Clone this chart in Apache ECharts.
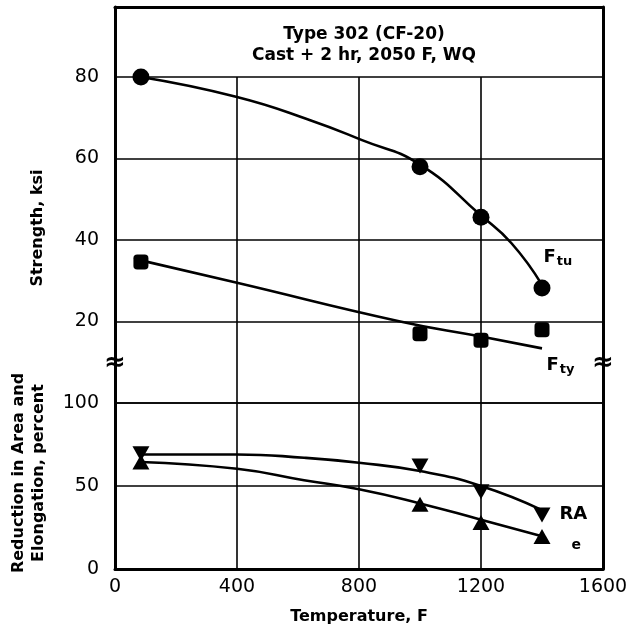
<!DOCTYPE html>
<html>
<head>
<meta charset="utf-8">
<script src="https://cdn.jsdelivr.net/npm/echarts@6/dist/echarts.min.js"></script>
<style>
html,body{margin:0;padding:0;background:#fff;}
#chart{width:627px;height:629px;}
</style>
</head>
<body>
<div id="chart"></div>
<script>
// ---- data ----
const tempTicks = [0, 400, 800, 1200, 1600];
const testTemps = [85, 1000, 1200, 1400];
const ftuPoints = [80, 58, 45.6, 28.2];
const ftyPoints = [34.6, 17, 15.4, 18];
const raPoints = [69.5, 62, 46.5, 32.5];
const elongPoints = [64.5, 39, 28, 19.6];

const ftuCurveX = [85, 400, 640, 810, 1000, 1200, 1300, 1400];
const ftuCurveY = [80, 75.1, 69.4, 64.5, 58.5, 46, 39.2, 29];
const ftyCurveX = [85, 400, 935, 1200, 1400];
const ftyCurveY = [35, 29.5, 20, 16.3, 13.4];
const raCurveX = [85, 400, 620, 800, 1000, 1200, 1400];
const raCurveY = [69, 69, 67, 64, 59, 50, 35.5];
const elongCurveX = [85, 400, 620, 800, 1000, 1200, 1400];
const elongCurveY = [64.5, 60.4, 53.5, 48, 39.5, 29.7, 19.8];

const strengthTicks = [20, 40, 60, 80];
const ductTicks = [0, 50, 100];

const titleLines = ['Type 302 (CF-20)', 'Cast + 2 hr, 2050 F, WQ'];
const xTitle = 'Temperature, F';
const yTitleTop = 'Strength, ksi';
const yTitleBottom = ['Reduction in Area and', 'Elongation, percent'];

// ---- helpers ----
const zip = (xs, ys) => xs.map((x, i) => [x, ys[i]]);
const BLACK = '#000';
const FONT = 'DejaVu Sans';
const frameLine = { show: true, onZero: false, lineStyle: { color: BLACK, width: 3 } };
const gridLine = { show: true, lineStyle: { color: BLACK, width: 1.6 } };

function markerData(xs, ys, labelCfg) {
  return xs.map((x, i) => i === xs.length - 1
    ? { value: [x, ys[i]], label: labelCfg }
    : [x, ys[i]]);
}

const chart = echarts.init(document.getElementById('chart'), null, { renderer: 'canvas' });

const L = 115, W = 488;
const gridBase = { left: L, width: W, containLabel: false, outerBoundsMode: 'none' };
const curveBase = { type: 'line', smooth: 0.5, showSymbol: false,
  lineStyle: { color: BLACK, width: 2.6 }, z: 3, silent: true };
const markerStyle = { color: BLACK, opacity: 1 };

const option = {
  backgroundColor: '#fff',
  animation: false,
  title: {
    text: titleLines.join('\n'),
    left: 359,
    top: 19,
    textAlign: 'center',
    textStyle: { fontFamily: FONT, fontSize: 17, fontWeight: 'bold', color: BLACK, lineHeight: 21 }
  },
  grid: [
    Object.assign({ top: 7, height: 70 }, gridBase),
    Object.assign({ top: 77, height: 326 }, gridBase),
    Object.assign({ top: 403, height: 166 }, gridBase)
  ],
  xAxis: [
    { gridIndex: 0, type: 'value', min: 0, max: 1600, position: 'top',
      axisLine: frameLine, axisTick: { show: false }, axisLabel: { show: false }, splitLine: { show: false } },
    { gridIndex: 1, type: 'value', min: 0, max: 1600, interval: 400,
      axisLine: { show: false }, axisTick: { show: false }, axisLabel: { show: false }, splitLine: gridLine },
    { gridIndex: 2, type: 'value', min: 0, max: 1600, interval: 400,
      axisLine: frameLine, axisTick: { show: false },
      axisLabel: { show: true, margin: 9, fontFamily: FONT, fontSize: 19, color: BLACK, hideOverlap: false,
        formatter: v => tempTicks.includes(v) ? String(v) : '' },
      splitLine: gridLine,
      name: xTitle, nameLocation: 'middle', nameGap: 40,
      nameTextStyle: { fontFamily: FONT, fontSize: 16, fontWeight: 'bold', color: BLACK } }
  ],
  yAxis: [
    { gridIndex: 0, type: 'value', min: 0, max: 1, position: 'left',
      axisLine: frameLine, axisTick: { show: false }, axisLabel: { show: false }, splitLine: { show: false } },
    { gridIndex: 0, type: 'value', min: 0, max: 1, position: 'right',
      axisLine: frameLine, axisTick: { show: false }, axisLabel: { show: false }, splitLine: { show: false } },
    { gridIndex: 1, type: 'value', min: 0, max: 80, interval: 20, position: 'left',
      axisLine: frameLine, axisTick: { show: false },
      axisLabel: { show: true, margin: 16, fontFamily: FONT, fontSize: 19, color: BLACK,
        formatter: v => strengthTicks.includes(v) ? String(v) : '' },
      splitLine: gridLine },
    { gridIndex: 1, type: 'value', min: 0, max: 80, position: 'right',
      axisLine: frameLine, axisTick: { show: false }, axisLabel: { show: false }, splitLine: { show: false } },
    { gridIndex: 2, type: 'value', min: 0, max: 100, interval: 50, position: 'left',
      axisLine: frameLine, axisTick: { show: false },
      axisLabel: { show: true, margin: 16, fontFamily: FONT, fontSize: 19, color: BLACK,
        formatter: v => ductTicks.includes(v) ? String(v) : '' },
      splitLine: gridLine },
    { gridIndex: 2, type: 'value', min: 0, max: 100, position: 'right',
      axisLine: frameLine, axisTick: { show: false }, axisLabel: { show: false }, splitLine: { show: false } }
  ],
  series: [
    Object.assign({ name: 'Ftu curve', xAxisIndex: 1, yAxisIndex: 2, data: zip(ftuCurveX, ftuCurveY) }, curveBase),
    { type: 'scatter', name: 'Ftu', xAxisIndex: 1, yAxisIndex: 2, symbol: 'circle', symbolSize: 17,
      itemStyle: markerStyle, z: 4,
      data: markerData(testTemps, ftuPoints, {
        show: true, position: [10, -33], formatter: 'F{s|tu}',
        rich: { s: { fontFamily: FONT, fontSize: 13, fontWeight: 'bold', color: BLACK, padding: [9, 0, 0, 1] } },
        fontFamily: FONT, fontSize: 18, fontWeight: 'bold', color: BLACK }) },
    Object.assign({ name: 'Fty curve', xAxisIndex: 1, yAxisIndex: 2, data: zip(ftyCurveX, ftyCurveY) }, curveBase),
    { type: 'scatter', name: 'Fty', xAxisIndex: 1, yAxisIndex: 2, symbol: 'roundRect', symbolSize: 15,
      itemStyle: markerStyle, z: 4,
      data: markerData(testTemps, ftyPoints, {
        show: true, position: [12, 32], formatter: 'F{s|ty}',
        rich: { s: { fontFamily: FONT, fontSize: 13, fontWeight: 'bold', color: BLACK, padding: [9, 0, 0, 1] } },
        fontFamily: FONT, fontSize: 18, fontWeight: 'bold', color: BLACK }) },
    Object.assign({ name: 'RA curve', xAxisIndex: 2, yAxisIndex: 4, data: zip(raCurveX, raCurveY) }, curveBase),
    { type: 'scatter', name: 'RA', xAxisIndex: 2, yAxisIndex: 4, symbol: 'triangle', symbolRotate: 180,
      symbolSize: [17, 15], itemStyle: markerStyle, z: 4,
      data: markerData(testTemps, raPoints, {
        show: true, position: [26, -2], formatter: 'RA', rotate: 0,
        fontFamily: FONT, fontSize: 18, fontWeight: 'bold', color: BLACK }) },
    Object.assign({ name: 'e curve', xAxisIndex: 2, yAxisIndex: 4, data: zip(elongCurveX, elongCurveY) }, curveBase),
    { type: 'scatter', name: 'e', xAxisIndex: 2, yAxisIndex: 4, symbol: 'triangle',
      symbolSize: [17, 15], itemStyle: markerStyle, z: 4,
      data: markerData(testTemps, elongPoints, {
        show: true, position: [38, 9], formatter: 'e',
        fontFamily: FONT, fontSize: 14, fontWeight: 'bold', color: BLACK }) }
  ],
  graphic: [
    { type: 'text', x: 38, y: 228, rotation: Math.PI / 2,
      style: { text: yTitleTop, fontFamily: FONT, fontSize: 16, fontWeight: 'bold', fill: BLACK,
        align: 'center', verticalAlign: 'middle' } },
    { type: 'text', x: 29, y: 473, rotation: Math.PI / 2,
      style: { text: yTitleBottom.join('\n'), fontFamily: FONT, fontSize: 16, fontWeight: 'bold', fill: BLACK,
        align: 'center', verticalAlign: 'middle', lineHeight: 20 } },
    { type: 'text', x: L, y: 363, z: 10,
      style: { text: '≈', fontFamily: FONT, fontSize: 26, fontWeight: 'bold', fill: BLACK,
        align: 'center', verticalAlign: 'middle' } },
    { type: 'text', x: L + W, y: 363, z: 10,
      style: { text: '≈', fontFamily: FONT, fontSize: 26, fontWeight: 'bold', fill: BLACK,
        align: 'center', verticalAlign: 'middle' } }
  ]
};
chart.setOption(option);
</script>
</body>
</html>
